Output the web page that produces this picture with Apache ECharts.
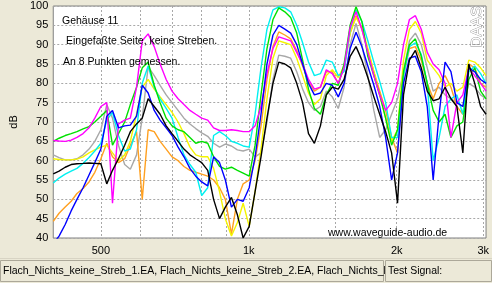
<!DOCTYPE html>
<html><head><meta charset="utf-8">
<script src="https://cdn.jsdelivr.net/npm/echarts@6/dist/echarts.min.js"></script>
<style>html,body{margin:0;padding:0;background:#ece9d8;}#chart{width:492px;height:283px;}</style>
</head><body><div id="chart"></div>
<script>
// Frequency grid (Hz)
const freqs = [400,411,423,435,447,460,473,486,500,514,528,543,559,574,591,607,624,642,660,679,698,718,738,759,780,802,825,848,872,896,922,948,974,1002,1030,1059,1089,1120,1151,1184,1217,1252,1287,1323,1360,1399,1438,1479,1521,1563,1608,1653,1699,1747,1797,1847,1899,1953,2008,2065,2123,2183,2244,2308,2373,2440,2509,2579,2652,2727,2804,2883,2964,3040];
// Level (dB) of the 8 measurement points
const black   = [56.6,57.3,58.3,59,59.2,59.3,59.4,59.3,59.2,54,57.5,60.5,64,67.5,69.5,71,76,74,72,69,67,65,63,61.5,60.5,59.5,57.5,50,45,48,50.5,46,40,43,52,61,71,80,85.5,85,84,80,75,67,64.5,69,77,79,78.5,81,87,89.5,86,81.5,76.5,72,67.5,62,49,77,86,88.5,84,78,75.5,76,79,76,74,62,85,80,74,72];
const blue    = [38.5,40.5,43.5,47,50,53,56.3,59.5,63,71.5,73,68.5,69,69.2,71.5,79.5,77.5,73,70.5,68.5,66.5,63.5,61,58,56,54.5,53.5,61,59.5,55,48,50,49.5,53,61,72,85,92.5,95,94,93,90,85,80,77,77.5,80,79.5,76.5,80,89,93.2,89.5,84.5,79.5,74,66,55,62,80,86.5,87,83,74,55,72,85.5,83,75,74,84,83,81,80];
const magenta = [65.2,65.1,65,65.3,66,67,68.5,71,74,75,49,69.5,70.5,71,79,91,92.8,89.5,85,81,78,76,74.5,73,72,71,70.5,68.5,67.8,67.8,68,67.8,67.5,67.5,69,74,82.5,89,92,91.5,91,88,85,81,78.5,79,83.5,82.5,80,84,94.5,98.5,94,88,82,77,73,75,80,90,96.5,97.5,94,88,85,83.5,80,66,75,77,84,82,80,78];
const green   = [65,65.8,66.5,67,67.5,68.2,68.8,70,71.5,73,64,67,70,74.5,79,84,85.5,79.5,75,71,69,68,67.5,66,64.5,65,64.5,61,58.5,57.8,58.3,57.5,56.8,56,64,77,89,96.5,99.5,98.5,97,93,86,78.5,73.5,72,77,80,79.5,85,95,99.8,96,87,82,77,71,64,68,83,90,91.5,87,80,73,70,72,66,69,70,81,84,78,76];
const cyan    = [54.2,55.5,56.5,57.3,58,59.3,60.8,62.5,64.5,70.5,72.5,66.5,62.5,63,68,80,84.5,79,76,73.5,71,66,61.5,59,57,51,53,66.5,67.5,66.5,65,64.5,63.8,63.5,72,84,94,99,99.8,99.5,98.5,95,90.5,85.5,82,82.5,86,85.5,82,83,94,99,96,91,85.5,80.5,75,66,66,82,89.5,90.5,87.5,80,60,66,74,76,77,72,83,84.5,82.5,80];
const yellow  = [60.5,60.3,60.2,60.2,60.4,61,62,62.8,63.5,64,62,60,61.5,65,72,79,81,78.5,76.5,74.5,72.5,70,67,63.5,61.5,61,61,58,52,45,40.5,44,49,43,52,63,76,86.5,91,90.5,90,86.5,82,77.5,74.5,76,82,83.5,81.5,84.5,93,97,94.5,89,83,77,71,65,68,86,94,96,93,86,84,82,79,80,78,79,86,85.5,84,82];
const orange  = [44.3,46.4,48,49.5,51.5,52.8,54.5,57,60.5,64.5,61,59.5,60.5,64,67.5,50,68,67.5,65,63,61,60,58.5,57.5,57,56.5,56,55,53,50,41,50,54,55,60,69,81,89.5,93.3,92.5,91.5,88.5,84.5,80.5,78,79,83,83,80,84,93,97.5,94,88.5,83,78,73,66,62,82,89,89.5,86,80,76,80,82,79,74,72,85,84,80,79];
const grey    = [61.5,60.8,60.2,60.2,60.5,61.5,63,65,68,74.5,71,64,59,57.8,61.5,71,84.3,82,79.5,77,75,73,71,69.5,68.3,67.2,66.3,64.5,63.5,64.3,63.8,62.8,62.5,63,61,62,70,81,87.3,87,86.5,83,78.5,75,73,74,78,76.5,73.5,79,90,95.5,90,82,73,66,68,72,76,83,91,93,90,84,78,79,77,76,75,74,80,79,77,76];

// Axis ticks
const gridFreqs = [500,600,700,800,900,1000,1500,2000,3000];
const labelFreqs = [500,1000,2000,3000];

const FONT = '"Liberation Sans", Arial, sans-serif';
const pairs = vals => freqs.map((f, i) => [f, vals[i]]);

const defs = [
  ['Punkt 8', grey,    '#a8a8a8'],
  ['Punkt 7', orange,  '#ffa020'],
  ['Punkt 6', yellow,  '#f4f400'],
  ['Punkt 5', cyan,    '#00f0f0'],
  ['Punkt 4', green,   '#00e000'],
  ['Punkt 3', magenta, '#ff00ff'],
  ['Punkt 2', blue,    '#0000ff'],
  ['Punkt 1', black,   '#000000']
];

const chart = echarts.init(document.getElementById('chart'));
chart.setOption({
  animation: false,
  backgroundColor: '#ece9d8',
  grid: {left: 51, right: 4, top: 6, bottom: 45, show: true, backgroundColor: '#ffffff', borderColor: '#808080', borderWidth: 1},
  xAxis: {
    type: 'log', logBase: 10, min: 400, max: 3040,
    axisLine: {show: false},
    axisTick: {show: false, customValues: gridFreqs},
    axisLabel: {customValues: labelFreqs, formatter: v => v >= 1000 ? (v / 1000) + 'k' : String(v),
      color: '#000', fontSize: 11, fontFamily: FONT, margin: 7},
    splitLine: {show: true, lineStyle: {color: '#a8a8a8', type: [2, 2], width: 1}}
  },
  yAxis: {
    type: 'value', min: 40, max: 100, interval: 5,
    name: 'dB', nameLocation: 'middle', nameGap: 34,
    nameTextStyle: {color: '#000', fontSize: 11, fontFamily: FONT},
    axisLine: {show: false}, axisTick: {show: false},
    axisLabel: {color: '#000', fontSize: 11, fontFamily: FONT, margin: 5},
    splitLine: {show: true, lineStyle: {color: '#a8a8a8', type: [2, 2], width: 1}}
  },
  series: defs.map(d => ({
    name: d[0], type: 'line', data: pairs(d[1]), showSymbol: false, symbol: 'none',
    lineStyle: {color: d[2], width: 1.4}, itemStyle: {color: d[2]}, clip: true
  })),
  graphic: [
    {type: 'text', x: 62, y: 21, z: 50, style: {text: 'Gehäuse 11', fontSize: 10.5, fontFamily: FONT, fill: '#000', verticalAlign: 'middle'}},
    {type: 'text', x: 66, y: 41, z: 50, style: {text: 'Eingefaßte Seite, keine Streben.', fontSize: 10.5, fontFamily: FONT, fill: '#000', verticalAlign: 'middle'}},
    {type: 'text', x: 63, y: 62, z: 50, style: {text: 'An 8 Punkten gemessen.', fontSize: 10.5, fontFamily: FONT, fill: '#000', verticalAlign: 'middle'}},
    {type: 'text', x: 328, y: 233, z: 50, style: {text: 'www.waveguide-audio.de', fontSize: 10.5, fontFamily: FONT, fill: '#000', verticalAlign: 'middle'}},
    {type: 'text', x: 477, y: 27, rotation: Math.PI / 2, z: 50, style: {text: 'DAAS', fontSize: 15, fontFamily: FONT, fill: '#ffffff', stroke: '#8c8c8c', lineWidth: 0.8, align: 'center', verticalAlign: 'middle'}},
    {type: 'line', z: 10, shape: {x1: 0, y1: 258.5, x2: 492, y2: 258.5}, style: {stroke: '#d8d4c4', lineWidth: 1}},
    {type: 'rect', z: 10, shape: {x: 0.5, y: 260.5, width: 383, height: 21}, style: {fill: '#ece9d8', stroke: '#aca899', lineWidth: 1}},
    {type: 'text', z: 11, x: 3, y: 271, style: {text: 'Flach_Nichts_keine_Streb_1.EA, Flach_Nichts_keine_Streb_2.EA, Flach_Nichts_keine_Streb_3.EA', fontSize: 10.5, fontFamily: FONT, fill: '#000', verticalAlign: 'middle'}},
    {type: 'rect', z: 12, shape: {x: 385.5, y: 260.5, width: 106, height: 21}, style: {fill: '#ece9d8', stroke: '#aca899', lineWidth: 1}},
    {type: 'text', z: 13, x: 388, y: 271, style: {text: 'Test Signal:', fontSize: 10.5, fontFamily: FONT, fill: '#000', verticalAlign: 'middle'}}
  ]
});
</script>
</body></html>
